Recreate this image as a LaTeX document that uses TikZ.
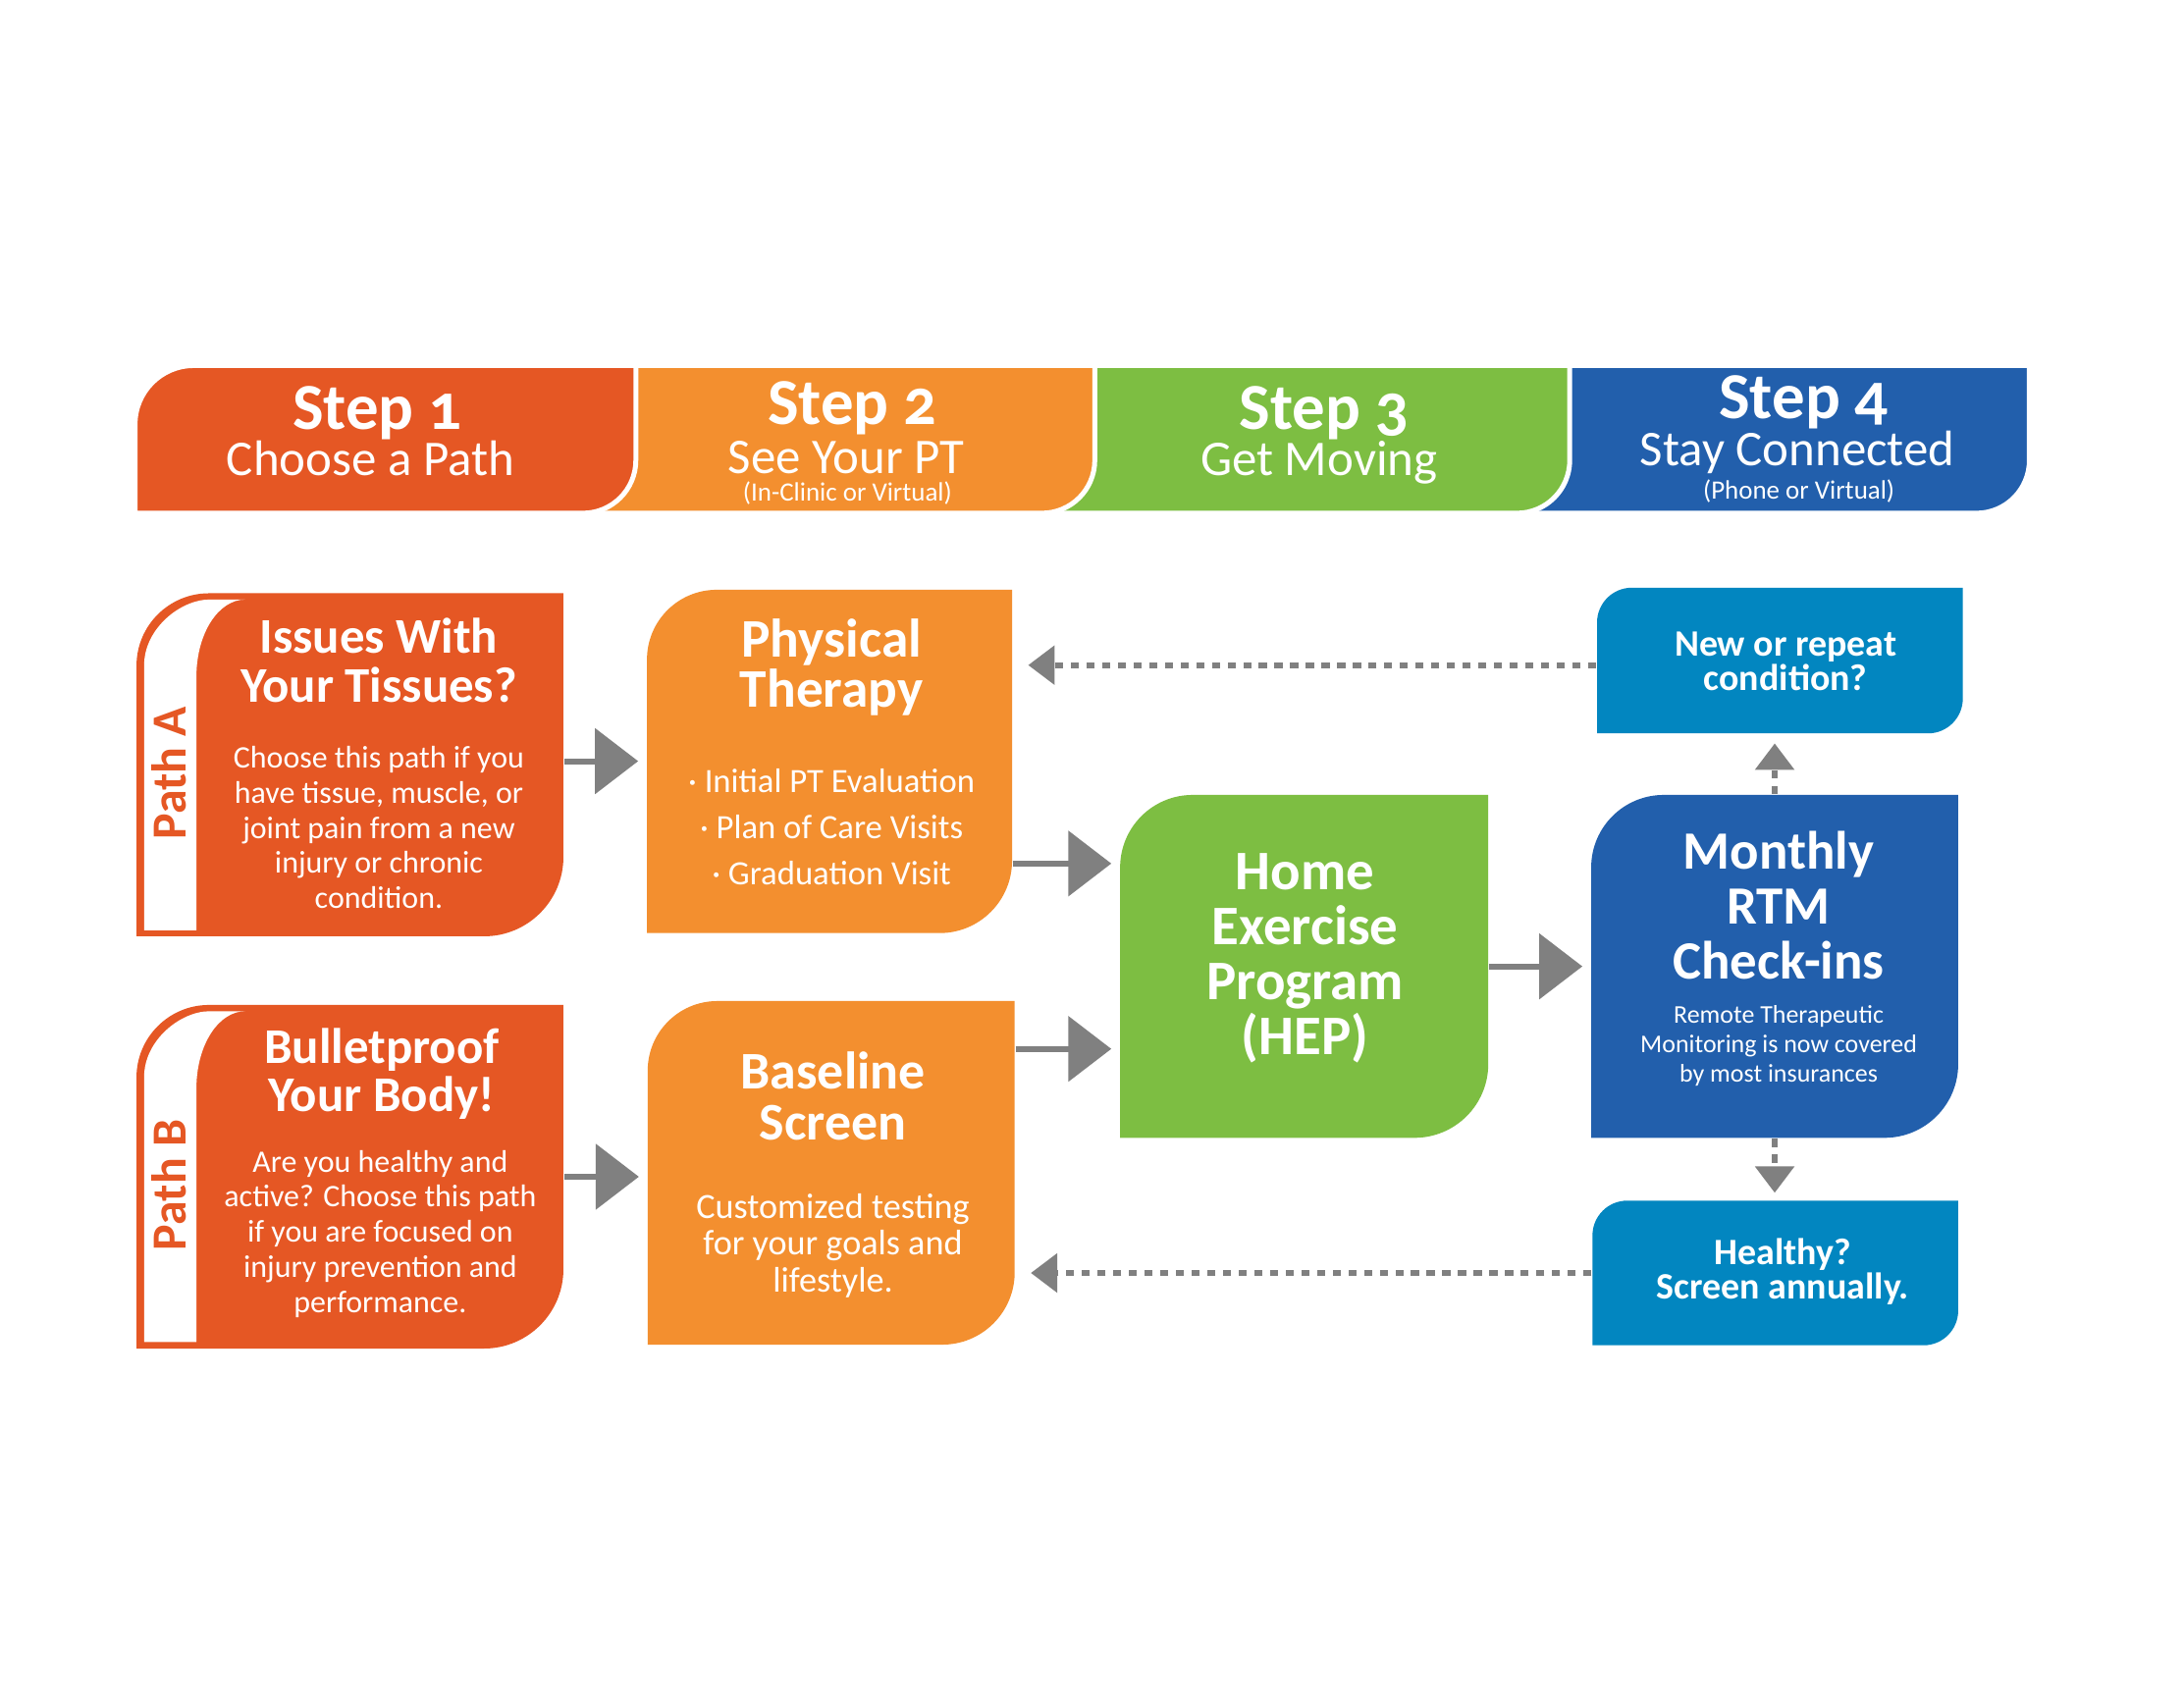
\documentclass[tikz,border=0pt]{standalone}
\usepackage{fontspec}
\setmainfont{Carlito}
\newfontfamily\stepfont{Carlito}[Numbers=OldStyle]
\usetikzlibrary{arrows.meta,calc,fit}
\definecolor{cred}{RGB}{229,87,36}
\definecolor{corange}{RGB}{243,143,47}
\definecolor{cgreen}{RGB}{125,190,66}
\definecolor{cblue}{RGB}{34,95,172}
\definecolor{clblue}{RGB}{2,134,192}
\definecolor{cgray}{RGB}{128,128,128}
\newcommand\fsz[2]{\fontsize{#1}{#2}\selectfont}
% #1 style, #2 x1, #3 y1, #4 x2, #5 y2, #6 top-left radius, #7 bottom-right radius
\newcommand\shapebox[7]{%
  \path[#1] (#2,#5) -- (#2,{#3+#6}) .. controls (#2,{#3+0.448*#6}) and ({#2+0.448*#6},#3) .. ({#2+#6},#3)
    -- (#4,#3) -- (#4,{#5-#7}) .. controls (#4,{#5-0.448*#7}) and ({#4-0.448*#7},#5) .. ({#4-#7},#5) -- cycle;}
% #1 name, #2 colour, #3..#6 box, #7 rtl, #8 rbr
\newcommand\boxnode[8]{%
  \shapebox{fill=#2}{#3}{#4}{#5}{#6}{#7}{#8}
  \node[fit={(#3,#4)(#5,#6)}, inner sep=0pt] (#1) {};}
\begin{document}
\begin{tikzpicture}[x=0.01cm,y=-0.01cm,
  txt/.style={text=white, align=center, anchor=base, inner sep=0pt},
  arr/.style={draw=cgray, line width=1.2pt, shorten >=1.6pt, -{Triangle[length=8.8pt,width=13.2pt]}},
  darr/.style={draw=cgray, line width=1.2pt, dash pattern=on 1.65pt off 1.55pt, -{Triangle[length=5.4pt,width=7.8pt]}},
  steptitle/.style={txt, font={\stepfont\bfseries\fsz{13.4}{14}}},
  stepsub/.style={txt, font={\fsz{10.2}{11}}},
  stepnote/.style={txt, font={\fsz{5.4}{6}}},
  hdr/.style={draw=white, line width=1pt},
  pathlabel/.style={rotate=90, text=cred, inner sep=0pt, font={\bfseries\fsz{10}{10}}}
]
\fill[white] (0,0) rectangle (1568,1216);
\path[use as bounding box] (0,0) rectangle (1568,1216);

% header
\shapebox{fill=cblue,hdr}{1060}{262.5}{1457}{368.5}{0}{38}
\shapebox{fill=cgreen,hdr}{720}{262.5}{1127}{368.5}{0}{38}
\shapebox{fill=corange,hdr}{400}{262.5}{786}{368.5}{0}{38}
\shapebox{fill=cred,hdr}{97}{262.5}{456.5}{368.5}{42}{38}

\node[steptitle] (s1a) at (271,308) {Step 1};
\node[stepsub]   (s1b) at (266,341.5) {Choose a Path};
\node[steptitle] (s2a) at (612,305) {Step 2};
\node[stepsub]   (s2b) at (607.5,340) {See Your PT};
\node[stepnote]  (s2c) at (608.5,360) {(In-Clinic or Virtual)};
\node[steptitle] (s3a) at (950.5,308) {Step 3};
\node[stepsub]   (s3b) at (947,341.5) {Get Moving};
\node[steptitle] (s4a) at (1295,300.5) {Step 4};
\node[stepsub]   (s4b) at (1290.5,334.5) {Stay Connected};
\node[stepnote]  (s4c) at (1291.5,358.5) {(Phone or Virtual)};

% path boxes
\boxnode{pathA}{cred}{98}{426}{404.5}{672.3}{52}{57}
\fill[white] (103.5,668) -- (103.5,477.5) .. controls (103.5,451.6) and (129.4,430.5) .. (150.5,430.5)
  -- (176,430.5) .. controls (156.7,430.5) and (141,455) .. (141,486) -- (141,668) -- cycle;
\boxnode{pathB}{cred}{98}{721.6}{404.5}{968.3}{52}{57}
\begin{scope}[shift={(0,295.6)}]
\fill[white] (103.5,668) -- (103.5,477.5) .. controls (103.5,451.6) and (129.4,430.5) .. (150.5,430.5)
  -- (176,430.5) .. controls (156.7,430.5) and (141,455) .. (141,486) -- (141,668) -- cycle;
\end{scope}
\node[pathlabel] (plA) at (121,555) {Path A};
\node[pathlabel] (plB) at (121,851) {Path B};

% anchor=base of a multi-line node = baseline of its last line
\node[txt, font={\bfseries\fsz{10.2}{10.05}}] (paT) at (272,504.5) {Issues With\\Your Tissues?};
\node[txt, font={\fsz{6.4}{7.2}}] (paB) at (272,652.5) {Choose this path if you\\have tissue, muscle, or\\joint pain from a new\\injury or chronic\\condition.};
\node[txt, font={\bfseries\fsz{10.2}{9.7}}] (pbT) at (274,798) {Bulletproof\\Your Body!};
\node[txt, font={\fsz{6.4}{7.18}}] (pbB) at (273,942.5) {Are you healthy and\\active? Choose this path\\if you are focused on\\injury prevention and\\performance.};

% step 2 boxes
\boxnode{pt}{corange}{464.5}{423.5}{726.6}{670}{50}{52}
\boxnode{bs}{corange}{465}{718.8}{728.5}{965.5}{50}{52}
\node[txt, font={\bfseries\fsz{11.1}{10.35}}] (ptT) at (597,508) {Physical\\Therapy};
\node[txt, font={\fsz{6.95}{9.36}}] (ptB) at (597,635) {\textperiodcentered{} Initial PT Evaluation\\\textperiodcentered{} Plan of Care Visits\\\textperiodcentered{} Graduation Visit};
\node[txt, font={\bfseries\fsz{10.8}{10.5}}] (bsT) at (598,818.5) {Baseline\\Screen};
\node[txt, font={\fsz{7.25}{7.5}}] (bsB) at (598,927.5) {Customized testing\\for your goals and\\lifestyle.};

% step 3 / 4 boxes
\boxnode{hep}{cgreen}{804.2}{570.8}{1068.5}{817}{52}{53}
\node[txt, font={\bfseries\fsz{11.4}{11.2}}] (hepT) at (937,757) {Home\\Exercise\\Program\\(HEP)};
\boxnode{rtm}{cblue}{1142.4}{570.8}{1405.9}{817}{52}{53}
\node[txt, font={\bfseries\fsz{11}{11.2}}] (rtmT) at (1277,703) {Monthly\\RTM\\Check-ins};
\node[txt, font={\fsz{5.2}{6.03}}] (rtmB) at (1277,777) {Remote Therapeutic\\Monitoring is now covered\\by most insurances};
\boxnode{newc}{clblue}{1146.6}{422}{1409.2}{526.6}{25}{25}
\node[txt, font={\bfseries\fsz{7.6}{6.9}}] (newT) at (1282,495.5) {New or repeat\\condition?};
\boxnode{healthy}{clblue}{1143.3}{862.1}{1405.9}{966}{25}{25}
\node[txt, font={\bfseries\fsz{7.6}{7.03}}] (hT) at (1280,932.5) {Healthy?\\Screen annually.};

% connectors
\coordinate (aout) at ($(pathA.east)+(0,-2.6)$);
\draw[arr] (aout) -- (aout -| pt.west);
\draw[arr] (pathB.east) -- (pathB.east -| bs.west);
\coordinate (ptout) at ($(pt.east)+(0,73.3)$);
\draw[arr] (ptout) -- (ptout -| hep.west);
\coordinate (bsout) at ($(bs.east)+(0,-89)$);
\draw[arr] (bsout) -- (bsout -| hep.west);
\draw[arr] (hep.east) -- (rtm.west);
\coordinate (newout) at ($(newc.west)+(0,3.3)$);
\draw[darr, shorten >=3.1pt] (newout) -- (newout -| pt.east);
\draw[darr, shorten >=3.1pt] (healthy.west) -- (healthy.west -| bs.east);
\draw[darr, shorten >=1.85pt] (rtm.north) -- (rtm.north |- newc.south);
\draw[darr, shorten >=1.4pt] (rtm.south) -- (rtm.south |- healthy.north);
\end{tikzpicture}
\end{document}
